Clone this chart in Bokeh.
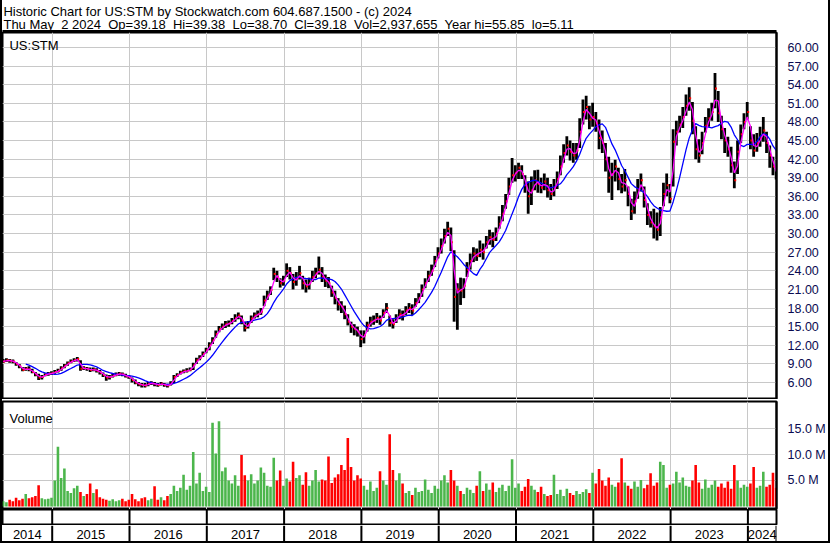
import pandas as pd
from bokeh.plotting import figure
from bokeh.layouts import column
from bokeh.models import Range1d, FixedTicker, NumeralTickFormatter
from bokeh.core.properties import value
from bokeh.embed import file_html
from bokeh.resources import INLINE

FONT = "Liberation Sans"
TITLE1 = "Historic Chart for US:STM by Stockwatch.com 604.687.1500 - (c) 2024"
TITLE2 = ("Thu May\u00a0 2 2024\u00a0 Op=39.18\u00a0 Hi=39.38\u00a0 Lo=38.70\u00a0 "
          "Cl=39.18\u00a0 Vol=2,937,655\u00a0 Year hi=55.85\u00a0 lo=5.11")
SYMBOL = "US:STM"
VOL_TITLE = "Volume"

# half-monthly bars, first bar mid-May 2014 (decimal years)
START = 2014.366
STEP = 1 / 24

close = [
    9.4, 9.6, 9.5, 9.4, 9.0, 8.6, 8.0, 8.2, 8.1, 7.7, 7.3, 6.8, 6.9, 7.3, 7.4, 7.5,
    7.7, 7.9, 8.3, 8.7, 9.1, 9.4, 9.6, 9.8, 8.2, 8.3, 8.2, 8.0, 8.1, 7.9, 7.6, 7.2, 6.8, 6.9, 7.1, 7.3, 7.4, 7.3, 7.0, 6.9,
    6.4, 6.0, 5.7, 5.6, 5.5, 5.8, 5.9, 5.7, 5.6, 5.8, 5.6, 5.5, 5.8, 6.9, 7.2, 7.6, 7.8, 7.9, 8.1, 8.8, 9.6, 10.0, 10.6, 11.2,
    12.0, 12.8, 13.8, 14.6, 15.0, 15.4, 15.5, 15.9, 16.4, 16.8, 16.0, 14.8, 15.3, 16.3, 16.8, 17.0, 17.4, 19.2, 20.0, 20.9, 23.5, 23.0, 22.0, 22.4,
    24.0, 23.6, 22.2, 22.8, 23.6, 22.0, 21.5, 22.0, 23.0, 23.6, 24.2, 23.0, 22.4, 22.0, 20.5, 19.6, 18.6, 18.2, 17.0, 15.8, 15.0, 14.6, 14.2, 13.0,
    13.6, 15.2, 15.8, 16.0, 16.4, 16.0, 17.2, 18.0, 15.6, 15.4, 16.4, 17.0, 16.8, 17.6, 18.0, 17.6, 18.8, 19.6, 21.0, 22.0, 23.2, 24.0, 25.6, 26.8,
    28.0, 29.6, 30.8, 28.6, 19.8, 21.0, 20.8, 21.6, 24.2, 25.6, 26.8, 26.4, 27.4, 27.0, 28.6, 29.4, 29.0, 30.0, 31.6, 33.2, 35.2, 37.6, 39.4, 39.8,
    40.6, 39.6, 37.8, 36.0, 37.0, 38.6, 38.0, 37.4, 38.4, 37.0, 36.4, 37.4, 38.8, 40.8, 43.0, 44.2, 43.2, 42.6, 43.4, 46.4, 49.6, 50.4, 48.4, 48.8,
    47.8, 45.4, 44.6, 42.0, 39.0, 39.6, 40.8, 38.8, 37.6, 38.6, 36.4, 33.6, 35.2, 37.2, 38.6, 35.4, 33.0, 31.8, 31.2, 30.6, 32.6, 36.4, 37.8, 35.6,
    44.8, 46.4, 47.6, 48.8, 50.6, 51.8, 48.2, 43.6, 42.6, 44.6, 47.4, 48.6, 49.6, 53.4, 49.4, 46.8, 45.0, 43.6, 41.0, 38.6, 43.2, 46.0, 48.0, 49.6,
    45.0, 43.4, 44.6, 45.4, 46.6, 44.6, 42.6, 40.8, 39.2,
]
high = [
    9.8, 9.9, 9.8, 9.7, 9.3, 9.0, 8.5, 8.5, 8.6, 8.2, 7.7, 7.4, 7.2, 7.5, 7.7, 7.8,
    8.0, 8.2, 8.6, 9.0, 9.4, 9.7, 9.9, 10.1, 9.6, 8.6, 8.5, 8.4, 8.4, 8.3, 8.0, 7.6, 7.3, 7.2, 7.4, 7.6, 7.7, 7.6, 7.4, 7.2,
    6.8, 6.5, 6.1, 5.9, 5.9, 6.1, 6.2, 6.1, 5.9, 6.1, 5.9, 5.8, 6.2, 7.2, 7.5, 7.9, 8.1, 8.3, 8.4, 9.2, 10.0, 10.4, 11.0, 11.6,
    12.5, 13.3, 14.4, 15.1, 15.5, 15.9, 16.0, 16.4, 17.0, 17.3, 16.8, 15.8, 15.9, 16.8, 17.3, 17.6, 18.0, 20.0, 20.8, 21.5, 24.5, 24.0, 22.8, 23.2,
    25.2, 24.6, 23.5, 23.8, 24.8, 23.2, 22.6, 22.9, 24.0, 24.5, 26.3, 24.6, 23.4, 23.0, 21.6, 20.8, 19.6, 19.1, 18.4, 17.0, 15.8, 15.4, 15.0, 14.4,
    14.4, 15.8, 16.6, 16.8, 17.2, 16.8, 17.8, 18.8, 16.8, 16.2, 17.0, 17.8, 17.6, 18.3, 18.8, 18.6, 19.6, 20.4, 21.8, 22.8, 24.0, 25.0, 26.4, 27.8,
    29.2, 30.8, 31.9, 31.0, 27.3, 22.0, 22.9, 22.8, 25.4, 26.8, 27.8, 27.6, 28.9, 28.4, 29.6, 30.6, 30.2, 31.0, 32.8, 34.6, 36.4, 39.0, 42.2, 41.0,
    41.4, 41.0, 39.4, 38.4, 39.2, 40.2, 40.3, 39.0, 39.7, 39.0, 38.0, 38.8, 40.0, 42.6, 44.4, 45.7, 45.0, 44.6, 44.6, 48.6, 51.6, 52.2, 50.6, 51.1,
    49.6, 48.4, 46.6, 44.6, 42.4, 41.4, 41.9, 40.6, 39.6, 40.4, 37.6, 35.6, 36.8, 38.8, 39.7, 37.6, 34.9, 33.6, 34.0, 33.4, 34.3, 38.2, 39.7, 38.0,
    46.8, 48.2, 49.0, 50.4, 52.4, 53.6, 51.2, 47.3, 45.2, 46.4, 48.8, 50.2, 51.1, 55.9, 53.0, 49.0, 47.0, 45.6, 44.0, 41.6, 45.0, 47.6, 49.4, 51.2,
    47.3, 46.0, 46.2, 47.2, 48.8, 46.4, 44.2, 42.4, 40.4,
]
low = [
    9.2, 9.3, 9.2, 9.1, 8.7, 8.3, 7.8, 7.9, 7.8, 7.5, 7.0, 6.4, 6.5, 7.0, 7.1, 7.2,
    7.4, 7.6, 7.9, 8.3, 8.7, 9.1, 9.3, 9.4, 7.9, 8.0, 7.9, 7.7, 7.8, 7.6, 7.3, 6.9, 6.3, 6.5, 6.8, 7.0, 7.1, 7.0, 6.8, 6.6,
    6.0, 5.7, 5.4, 5.2, 5.2, 5.4, 5.6, 5.4, 5.3, 5.5, 5.3, 5.2, 5.5, 5.9, 6.9, 7.3, 7.5, 7.6, 7.8, 8.0, 9.0, 9.6, 10.1, 10.7,
    11.2, 12.2, 13.2, 14.1, 14.5, 14.8, 15.0, 15.4, 15.8, 16.2, 15.4, 14.2, 14.7, 15.6, 16.3, 16.5, 16.9, 18.3, 19.3, 20.1, 22.5, 22.2, 21.3, 21.6,
    23.0, 22.6, 21.0, 21.6, 22.6, 21.0, 20.5, 21.0, 22.2, 22.8, 23.4, 22.2, 21.4, 21.2, 19.8, 18.6, 17.6, 17.2, 16.2, 15.2, 14.0, 13.6, 13.4, 11.7,
    12.3, 14.2, 15.0, 15.3, 15.6, 15.3, 16.4, 17.2, 15.0, 14.7, 15.6, 16.2, 16.0, 16.9, 17.2, 16.9, 18.2, 18.8, 19.8, 21.2, 22.2, 23.2, 24.6, 26.0,
    26.8, 28.4, 29.6, 27.2, 15.8, 14.5, 18.5, 19.6, 23.0, 24.2, 25.4, 25.6, 26.2, 25.8, 27.6, 28.2, 27.8, 28.8, 30.8, 32.0, 34.0, 36.2, 38.2, 38.4,
    38.8, 38.8, 36.6, 33.2, 34.6, 37.0, 36.6, 36.5, 37.0, 35.8, 35.4, 36.0, 37.2, 39.4, 41.4, 42.6, 41.8, 41.4, 41.9, 43.8, 47.6, 48.4, 46.8, 47.2,
    46.4, 43.6, 43.0, 40.0, 36.6, 35.4, 38.4, 37.0, 36.5, 36.8, 34.4, 32.2, 33.2, 35.6, 36.8, 34.2, 31.4, 31.0, 29.2, 28.9, 29.6, 34.4, 36.0, 34.9,
    37.6, 44.2, 46.3, 47.0, 49.0, 49.8, 46.0, 42.0, 41.4, 42.8, 46.3, 47.2, 48.2, 50.2, 48.0, 45.2, 43.0, 42.4, 39.8, 37.3, 39.6, 44.6, 46.8, 48.4,
    43.6, 42.4, 43.2, 44.0, 44.8, 43.0, 40.6, 39.4, 38.7,
]
# volume, millions of shares
volume = [
    1.0, 0.8, 1.3, 1.0, 1.7, 1.2, 1.5, 2.4, 1.6, 1.8, 2.0, 4.1, 1.6, 1.4, 1.5, 1.7,
    5.0, 11.5, 5.5, 7.3, 3.0, 2.6, 3.5, 4.0, 2.8, 2.0, 2.4, 4.4, 2.6, 3.3, 1.8, 1.5, 1.3, 1.1, 1.4, 1.0, 1.2, 1.5, 1.0, 1.3,
    2.4, 1.4, 1.0, 1.6, 1.8, 1.2, 1.5, 3.9, 1.3, 1.8, 1.2, 2.0, 2.4, 4.0, 3.0, 3.6, 6.1, 3.2, 4.0, 10.5, 4.4, 6.5, 3.0, 3.8,
    2.8, 16.1, 10.2, 16.4, 6.8, 7.5, 5.0, 4.4, 6.0, 4.0, 9.9, 6.0, 5.0, 6.2, 4.4, 5.0, 7.5, 6.5, 4.0, 3.8, 9.4, 5.0, 6.9, 4.0,
    5.4, 4.8, 8.6, 5.5, 6.0, 4.2, 6.6, 4.0, 5.0, 7.0, 4.8, 5.2, 5.0, 9.6, 4.5, 5.6, 6.2, 8.0, 7.0, 13.2, 7.6, 5.0, 6.0, 5.4,
    4.0, 3.2, 4.8, 3.0, 3.6, 6.8, 5.0, 4.2, 13.9, 7.0, 5.0, 6.4, 4.4, 2.6, 3.0, 2.2, 3.6, 2.8, 3.0, 5.2, 3.2, 2.6, 4.0, 3.4,
    5.0, 6.0, 4.6, 7.0, 5.0, 4.0, 3.0, 2.4, 3.6, 3.2, 2.6, 4.0, 6.8, 3.0, 4.4, 3.2, 4.6, 2.8, 3.6, 4.2, 3.0, 4.0, 9.1, 3.6,
    4.4, 3.0, 3.8, 5.3, 4.0, 3.2, 2.8, 3.8, 2.4, 2.0, 2.2, 6.1, 2.4, 3.2, 2.0, 3.4, 2.6, 2.2, 3.0, 2.4, 2.8, 3.3, 2.6, 6.5,
    4.4, 7.2, 5.0, 4.0, 5.6, 4.2, 3.8, 4.6, 9.3, 4.6, 4.0, 3.4, 4.8, 3.8, 5.1, 3.5, 4.2, 6.4, 4.0, 4.6, 8.6, 8.0, 3.6, 4.2,
    4.4, 6.7, 4.6, 5.6, 4.0, 3.8, 5.0, 8.0, 4.6, 3.4, 5.2, 3.6, 4.2, 5.0, 3.8, 4.4, 3.6, 4.8, 3.4, 8.0, 5.0, 3.6, 4.2, 3.8,
    4.4, 7.6, 3.6, 4.0, 6.7, 3.8, 4.2, 6.5, 3.6,
]
price_ticks = [6, 9, 12, 15, 18, 21, 24, 27, 30, 33, 36, 39, 42, 45, 48, 51, 54, 57, 60]
vol_ticks = [5, 10, 15]
vol_tick_labels = ["5.0 M", "10.0 M", "15.0 M"]
years = [2014, 2015, 2016, 2017, 2018, 2019, 2020, 2021, 2022, 2023, 2024]

# ---------------------------------------------------------------- derived
t = [START + i * STEP for i in range(len(close))]
cs = pd.Series(close)
ma_fast = cs.rolling(2, min_periods=1).mean().tolist()
ma_slow = cs.rolling(8, min_periods=8).mean().tolist()
vcolor = ["#4cb64c" if i == 0 or close[i] >= close[i - 1] else "#ff0000"
          for i in range(len(close))]

X0, X1 = 2014.357, 2024.370
xr = Range1d(X0, X1)
TOTAL_W = 826
RIGHT = 47
GRID = "#c8c8c8"
AXIS_TXT = "#0a0a50"
year_bounds = years[1:]


def base_fig(height, y_range, right_axis, top=0):
    f = figure(width=TOTAL_W, height=height, x_range=xr, y_range=y_range,
               x_axis_location=None, y_axis_location="right" if right_axis else None,
               toolbar_location=None, output_backend="svg",
               min_border_left=0, min_border_right=RIGHT,
               min_border_top=top, min_border_bottom=0)
    f.outline_line_color = "black"
    f.outline_line_width = 2
    f.background_fill_color = "white"
    f.border_fill_color = "white"
    return f


def style_axis(f, ticks):
    ax = f.yaxis[0]
    ax.ticker = FixedTicker(ticks=ticks)
    ax.axis_line_color = "black"
    ax.axis_line_width = 2
    ax.major_tick_line_color = None
    ax.minor_tick_line_color = None
    ax.major_label_standoff = 5
    ax.major_label_text_font = FONT
    ax.major_label_text_font_size = "12.5px"
    ax.major_label_text_color = AXIS_TXT
    f.ygrid.ticker = FixedTicker(ticks=ticks)
    f.xgrid.ticker = FixedTicker(ticks=year_bounds)
    f.grid.grid_line_color = GRID
    f.grid.grid_line_width = 1


# ---------------------------------------------------------------- header
HDR_H = 32
hdr = figure(width=TOTAL_W, height=HDR_H, x_range=(0, TOTAL_W), y_range=(0, HDR_H),
             x_axis_location=None, y_axis_location=None, toolbar_location=None,
             output_backend="svg", min_border=0)
hdr.grid.visible = False
hdr.outline_line_color = None
hdr.text(x=[1, 1], y=[20.6, 8.0], text=[TITLE1, TITLE2], text_font=value(FONT),
         text_font_size="13px", text_baseline="alphabetic", text_color="black")
hdr.quad(left=[0], right=[TOTAL_W], bottom=[0], top=[2], color="black")

# ---------------------------------------------------------------- price
pp = base_fig(367, Range1d(3.26, 62.41), True)
style_axis(pp, price_ticks)
pp.yaxis[0].formatter = NumeralTickFormatter(format="0.00")
pp.segment(x0=t, y0=low, x1=t, y1=high, line_color="black", line_width=2.8)
pp.segment(x0=t, y0=close, x1=[v + STEP * 0.6 for v in t], y1=close,
           line_color="#ff0000", line_width=2)
pp.line(t, ma_slow, line_color="#0000ff", line_width=1.3)
pp.line(t, ma_fast, line_color="#ff00ff", line_width=1.3)
pp.text(x=[X0 + 0.09], y=[60.3], text=[SYMBOL], text_font=value(FONT),
        text_font_size="13px", text_baseline="alphabetic", text_color="black")

# ---------------------------------------------------------------- volume
pv = base_fig(110, Range1d(-0.58, 20.2), True, top=2)
style_axis(pv, vol_ticks)
pv.yaxis[0].major_label_overrides = {k: s for k, s in zip(vol_ticks, vol_tick_labels)}
pv.vbar(x=t, top=volume, bottom=0, width=STEP * 0.8, fill_color=vcolor, line_color=None)
pv.text(x=[X0 + 0.09], y=[16.9], text=[VOL_TITLE], text_font=value(FONT),
        text_font_size="13px", text_baseline="alphabetic", text_color="black")

# ---------------------------------------------------------------- date strips
ps = base_fig(16, Range1d(0, 1), False)
ps.grid.visible = False
ps.segment(x0=year_bounds, x1=year_bounds, y0=[0] * len(year_bounds),
           y1=[1] * len(year_bounds), line_color="black", line_width=2)

pl = base_fig(16, Range1d(0, 1), False)
pl.grid.visible = False
pl.outline_line_color = None
pl.segment(x0=year_bounds + [X1], x1=year_bounds + [X1], y0=[0] * (len(year_bounds) + 1),
           y1=[1] * (len(year_bounds) + 1), line_color="black", line_width=2)
centers = [(max(y, X0) + min(y + 1, X1)) / 2 for y in years]
pl.text(x=centers, y=[0.45] * len(years), text=[str(y) for y in years],
        text_font=value(FONT), text_font_size="13px", text_align="center",
        text_baseline="middle", text_color="black")

layout = column(hdr, pp, pv, ps, pl, spacing=0,
                styles={"border-left": "2px solid black",
                        "border-right": "2px solid black",
                        "border-bottom": "2px solid black"})

open("out.html", "w").write(file_html(layout, INLINE))
